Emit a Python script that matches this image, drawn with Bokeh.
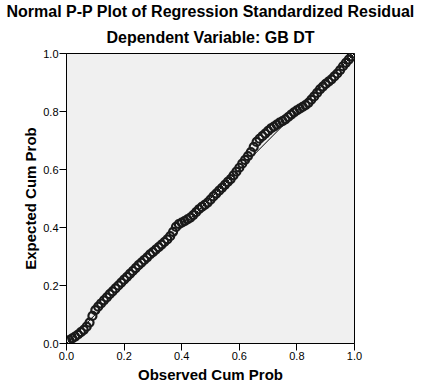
from bokeh.plotting import figure
from bokeh.models import Title, FixedTicker, PrintfTickFormatter, Range1d
from bokeh.embed import file_html
from bokeh.resources import INLINE

# Observed cumulative probability (x) and expected cumulative probability (y)
observed = [0.00, 0.01, 0.02, 0.03, 0.04, 0.05, 0.06, 0.07, 0.08, 0.09,
            0.10, 0.11, 0.12, 0.13, 0.14, 0.15, 0.16, 0.17, 0.18, 0.19,
            0.20, 0.21, 0.22, 0.23, 0.24, 0.25, 0.26, 0.27, 0.28, 0.29,
            0.30, 0.31, 0.32, 0.33, 0.34, 0.35, 0.36, 0.37, 0.38, 0.39,
            0.40, 0.41, 0.42, 0.43, 0.44, 0.45, 0.46, 0.47, 0.48, 0.49,
            0.50, 0.51, 0.52, 0.53, 0.54, 0.55, 0.56, 0.57, 0.58, 0.59,
            0.60, 0.61, 0.62, 0.63, 0.64, 0.65, 0.66, 0.67, 0.68, 0.69,
            0.70, 0.71, 0.72, 0.73, 0.74, 0.75, 0.76, 0.77, 0.78, 0.79,
            0.80, 0.81, 0.82, 0.83, 0.84, 0.85, 0.86, 0.87, 0.88, 0.89,
            0.90, 0.91, 0.92, 0.93, 0.94, 0.95, 0.96, 0.97, 0.98, 0.99, 1.00]
expected = [0.008, 0.012, 0.018, 0.024, 0.031, 0.039, 0.047, 0.058, 0.072, 0.095,
            0.115, 0.127, 0.138, 0.149, 0.159, 0.170, 0.180, 0.190, 0.200, 0.210,
            0.220, 0.230, 0.240, 0.250, 0.260, 0.270, 0.279, 0.288, 0.297, 0.307,
            0.315, 0.324, 0.332, 0.341, 0.350, 0.359, 0.370, 0.385, 0.402, 0.412,
            0.417, 0.422, 0.428, 0.434, 0.443, 0.453, 0.463, 0.471, 0.478, 0.486,
            0.496, 0.507, 0.517, 0.527, 0.537, 0.547, 0.557, 0.567, 0.580, 0.593,
            0.606, 0.620, 0.633, 0.646, 0.660, 0.678, 0.695, 0.706, 0.715, 0.724,
            0.733, 0.742, 0.748, 0.755, 0.762, 0.767, 0.773, 0.781, 0.789, 0.797,
            0.804, 0.810, 0.816, 0.822, 0.830, 0.841, 0.852, 0.864, 0.876, 0.886,
            0.895, 0.903, 0.911, 0.921, 0.931, 0.943, 0.956, 0.968, 0.979, 0.990, 1.000]
ref_line = [0.0, 1.0]
tick_values = [0.0, 0.2, 0.4, 0.6, 0.8, 1.0]

title_text = "Normal P-P Plot of Regression Standardized Residual"
subtitle_text = "Dependent Variable: GB DT"
x_label = "Observed Cum Prob"
y_label = "Expected Cum Prob"

FONT = "Liberation Sans"

p = figure(width=422, height=386, output_backend="svg", toolbar_location=None,
           x_range=Range1d(0, 1), y_range=Range1d(0, 1), title=None,
           min_border_left=66, min_border_right=68, min_border_top=0,
           min_border_bottom=43)

p.background_fill_color = "#f0f0f0"
p.border_fill_color = "white"
p.outline_line_color = "black"
p.outline_line_width = 1
p.grid.visible = False

t_sub = Title(text=subtitle_text, align="center", text_font=FONT,
              text_font_size="16px", text_font_style="bold", text_color="black",
              standoff=15)
t_main = Title(text=title_text, align="center", text_font=FONT,
               text_font_size="16px", text_font_style="bold", text_color="black",
               standoff=0)
p.add_layout(t_sub, "above")
p.add_layout(t_main, "above")

for ax in (p.xaxis[0], p.yaxis[0]):
    ax.ticker = FixedTicker(ticks=tick_values)
    ax.formatter = PrintfTickFormatter(format="%.1f")
    ax.axis_line_color = "black"
    ax.major_tick_line_color = "black"
    ax.major_tick_out = 7
    ax.major_tick_in = 0
    ax.minor_tick_line_color = None
    ax.major_label_text_font = FONT
    ax.major_label_text_font_size = "11px"
    ax.major_label_text_color = "black"
    ax.axis_label_text_font = FONT
    ax.axis_label_text_font_size = "15px"
    ax.axis_label_text_font_style = "bold"
    ax.axis_label_text_color = "black"

p.xaxis.axis_label = x_label
p.yaxis.axis_label = y_label
p.xaxis.major_label_standoff = 1
p.xaxis.axis_label_standoff = 3
p.yaxis.major_label_standoff = 1
p.yaxis.axis_label_standoff = 1

p.line(ref_line, ref_line, line_color="black", line_width=1)
p.scatter(observed, expected, marker="circle", size=8, fill_color=None,
          line_color="#1a1a1a", line_width=2.2)

open("out.html", "w").write(file_html(p, INLINE))
